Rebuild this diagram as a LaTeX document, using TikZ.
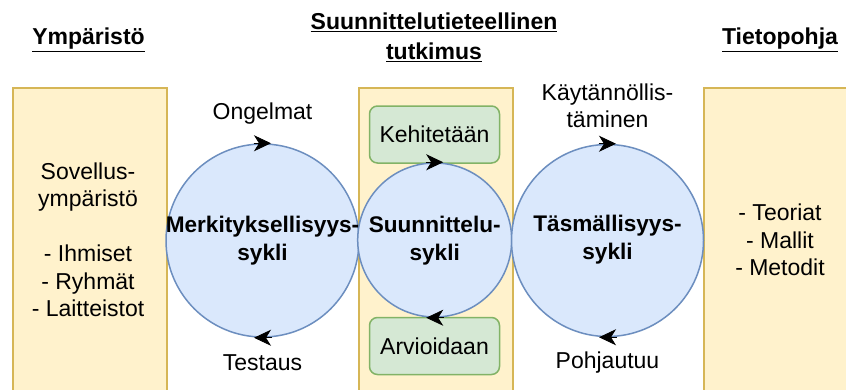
\documentclass[tikz,border=0pt]{standalone}
\usepackage{fontspec}
\setmainfont{Liberation Sans}
\usetikzlibrary{arrows.meta,calc}
\definecolor{yfill}{HTML}{FFF2CC}
\definecolor{ydraw}{HTML}{D6B656}
\definecolor{bfill}{HTML}{DAE8FC}
\definecolor{bdraw}{HTML}{6C8EBF}
\definecolor{gfill}{HTML}{D5E8D4}
\definecolor{gdraw}{HTML}{82B366}
\begin{document}
\begin{tikzpicture}[x=1pt,y=-1pt,
  txt/.style={font=\fontsize{23}{27.5}\selectfont, align=center, inner sep=0pt},
  ttl/.style={font=\bfseries\fontsize{23}{30}\selectfont, align=center, inner sep=0pt},
  cyclbl/.style={font=\bfseries\fontsize{22.6}{28}\selectfont, align=center, inner sep=0pt},
  panel/.style={draw=ydraw, fill=yfill, line width=1.5pt, minimum width=154pt, minimum height=330pt, anchor=north west, inner sep=0pt},
  circ/.style={circle, draw=bdraw, fill=bfill, line width=1.5pt, inner sep=0pt},
  stepbox/.style={draw=gdraw, fill=gfill, line width=1.5pt, rounded corners=8pt, minimum width=130pt, minimum height=57pt, inner sep=0pt, font=\fontsize{23}{27.5}\selectfont},
  cyc/.style={-{Stealth[length=17pt,width=16pt,inset=5pt]}, line width=0.8pt, black}]
\clip (0,0) rectangle (846,389);
\fill[white] (0,0) rectangle (846,389);
% panels
\node[panel] (env) at (12,87) {};
\node[panel] (dsr) at (358,87) {};
\node[panel] (kb) at (703,87) {};
% titles
\node[ttl] (t1) at (88.5,40) {\underline{Ympäristö}};
\node[ttl] (t2) at (434,37) {\underline{Suunnittelutieteellinen}\\\underline{tutkimus}};
\node[ttl] (t3) at (780,40) {\underline{Tietopohja}};
% panel texts
\node[txt] (envtxt) at (88,240) {Sovellus-\\ympäristö\\[27.5pt]- Ihmiset\\- Ryhmät\\- Laitteistot};
\node[txt] (kbtxt) at (780,240) {- Teoriat\\- Mallit\\- Metodit};
% green boxes
\node[stepbox] (dev) at (434.5,134.5) {Kehitetään};
\node[stepbox] (eval) at (434.5,346) {Arvioidaan};
% circles
\node[circ, minimum size=193pt] (c1) at (262.5,240.5) {};
\node[circ, minimum size=154pt] (c2) at (434.7,240) {};
\node[circ, minimum size=192pt] (c3) at (607.5,240.5) {};
\node[cyclbl] (l1) at (262.5,241) {Merkityksellisyys-\\sykli};
\node[cyclbl] (l2) at (434.7,241) {Suunnittelu-\\sykli};
\node[cyclbl] (l3) at (607.5,240) {Täsmällisyys-\\sykli};
% arrows
\foreach \c in {c1,c2,c3}{
  \draw[cyc] ($(\c.north)+(-9,0)$) -- ($(\c.north)+(8.5,0)$);
  \draw[cyc] ($(\c.south)+(9,0)$) -- ($(\c.south)+(-8.5,0)$);
}
% cycle labels
\node[txt] (o1) at (262.5,114) {Ongelmat};
\node[txt] (o2) at (262.5,363) {Testaus};
\node[txt] (o3) at (607.5,106) {Käytännöllis-\\täminen};
\node[txt] (o4) at (607.5,363) {Pohjautuu};
\end{tikzpicture}
\end{document}
